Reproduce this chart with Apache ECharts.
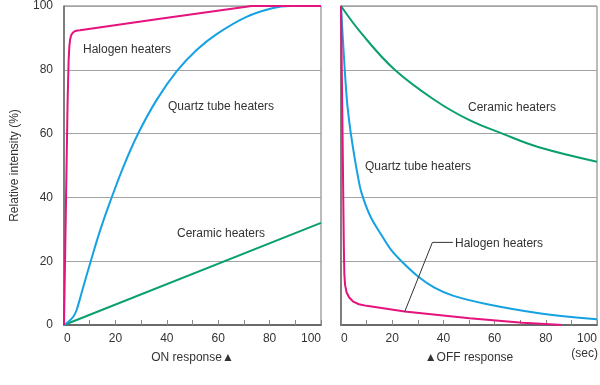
<!DOCTYPE html>
<html>
<head>
<meta charset="utf-8">
<script src="https://cdn.jsdelivr.net/npm/echarts@6/dist/echarts.min.js"></script>
<style>html,body{margin:0;padding:0;background:#fff}#c{width:600px;height:385px}</style>
</head>
<body>
<div id="c"></div>
<script>
// ---- data ----
const xTicks = [0, 20, 40, 60, 80, 100];
const yTicks = [0, 20, 40, 60, 80, 100];

// ON response (left panel): [time, relative intensity %]
const onHalogen = [[0,0],[0.8,40],[1.4,70],[1.8,83],[2.1,87.5],[2.4,89.6],[2.8,90.8],[3.4,91.6],[4.2,92.1],[5.2,92.3],[6.2,92.4],[37.4,96],[73,100],[100,100]];
const onQuartz = [[0,0],[1.7,1],[3.6,2.6],[4.9,4.7],[7,10.5],[10.4,20],[14,29.5],[18.2,39.2],[23.1,49.6],[28.9,60.1],[36,70.5],[43.8,79.5],[51.6,86.2],[59.4,91.2],[71,96.6],[81,99.3],[88,100],[100,100]];
const onCeramic = [[0,0],[100,32]];

// OFF response (right panel)
const offHalogen = [[0,100],[0.6,60],[1.1,25],[1.3,16],[1.6,12.5],[2.2,10.2],[3.2,8.6],[4.8,7.3],[7,6.5],[10,6.0],[24.9,4.2],[50.2,2.1],[70.9,0.7],[85,0.1],[86,0]];
const offQuartz = [[0,100],[1,86],[2.3,70.5],[3.5,62],[4.8,55],[6.4,47.5],[8,41.5],[11.5,34],[15.8,28.2],[19.5,23.6],[23.6,20],[30.1,15.2],[36.5,11.7],[43.7,9.2],[56.7,6.6],[77.4,3.7],[100,1.8]];
const offCeramic = [[0,100],[8,91.4],[21,80],[37,70.3],[50,64.3],[63,60],[77,55.8],[100,51.2]];

// leader line for the "Halogen heaters" label (right panel)
const halogenLeader = [[24.9,4.2],[35.7,25.9],[43.7,25.9]];

const names = {halogen: 'Halogen heaters', quartz: 'Quartz tube heaters', ceramic: 'Ceramic heaters'};
const colors = {halogen: '#e4137d', quartz: '#16a2e2', ceramic: '#0a9f6f'};

const FONT = '"Liberation Sans", Arial, Helvetica, sans-serif';
const TXT = '#333';

function xAxis(gridIndex, name) {
  return {
    type: 'value', gridIndex: gridIndex, min: 0, max: 100, interval: 10,
    name: name, nameLocation: 'middle', nameGap: 27,
    nameTextStyle: {fontFamily: FONT, fontSize: 12, color: TXT},
    axisLine: {show: true, lineStyle: {color: '#6a6a6a', width: 2}},
    axisTick: {show: true, inside: true, length: 5, lineStyle: {color: '#888', width: 1}},
    axisLabel: {
      fontFamily: FONT, fontSize: 12, color: TXT, margin: 8,
      alignMinLabel: 'left', alignMaxLabel: 'right',
      formatter: v => (xTicks.indexOf(v) >= 0 ? String(v) : '')
    },
    splitLine: {show: false}
  };
}
function yAxis(gridIndex, showLabels) {
  return {
    type: 'value', gridIndex: gridIndex, min: 0, max: 100, interval: 20,
    name: showLabels ? 'Relative intensity (%)' : '',
    nameLocation: 'middle', nameGap: 43,
    nameTextStyle: {fontFamily: FONT, fontSize: 12, color: TXT},
    axisLine: {show: true, lineStyle: {color: '#6a6a6a', width: 1.5}},
    axisTick: {show: false},
    axisLabel: {show: showLabels, fontFamily: FONT, fontSize: 12, color: TXT, margin: 11,
      formatter: v => (yTicks.indexOf(v) >= 0 ? String(v) : '')},
    splitLine: {show: true, lineStyle: {color: '#a3a3a3', width: 1}}
  };
}
function line(data, key, xi, smooth) {
  return {
    type: 'line', name: names[key], xAxisIndex: xi, yAxisIndex: xi, data: data,
    showSymbol: false, symbol: 'none', smooth: smooth,
    lineStyle: {color: colors[key], width: 2}, z: 3, silent: true
  };
}

const chart = echarts.init(document.getElementById('c'), null, {renderer: 'canvas'});
chart.setOption({
  animation: false,
  backgroundColor: '#fff',
  grid: [
    {left: 64, top: 6, width: 257, height: 319, show: true, borderColor: '#777', borderWidth: 1, backgroundColor: 'transparent'},
    {left: 341, top: 6, width: 257, height: 319, show: true, borderColor: '#777', borderWidth: 1, backgroundColor: 'transparent'}
  ],
  xAxis: [xAxis(0, 'ON response\u25B2'), xAxis(1, '\u25B2OFF response')],
  yAxis: [yAxis(0, true), yAxis(1, false)],
  series: [
    line(onCeramic, 'ceramic', 0, false),
    line(onQuartz, 'quartz', 0, 0.35),
    line(onHalogen, 'halogen', 0, false),
    line(offCeramic, 'ceramic', 1, 0.4),
    line(offQuartz, 'quartz', 1, 0.35),
    line(offHalogen, 'halogen', 1, false),
    {type: 'line', xAxisIndex: 1, yAxisIndex: 1, data: halogenLeader, showSymbol: false, symbol: 'none',
     lineStyle: {color: '#333', width: 1}, z: 4, silent: true}
  ],
  graphic: [
    {type: 'text', left: 83, top: 44, style: {text: names.halogen, font: '12px ' + FONT, fill: TXT}},
    {type: 'text', left: 168, top: 101, style: {text: names.quartz, font: '12px ' + FONT, fill: TXT}},
    {type: 'text', left: 177, top: 228, style: {text: names.ceramic, font: '12px ' + FONT, fill: TXT}},
    {type: 'text', left: 468, top: 102, style: {text: names.ceramic, font: '12px ' + FONT, fill: TXT}},
    {type: 'text', left: 365, top: 161, style: {text: names.quartz, font: '12px ' + FONT, fill: TXT}},
    {type: 'text', left: 455, top: 238, style: {text: names.halogen, font: '12px ' + FONT, fill: TXT}},
    {type: 'text', right: 2, top: 348, style: {text: '(sec)', font: '12px ' + FONT, fill: TXT}}
  ]
});
</script>
</body>
</html>
